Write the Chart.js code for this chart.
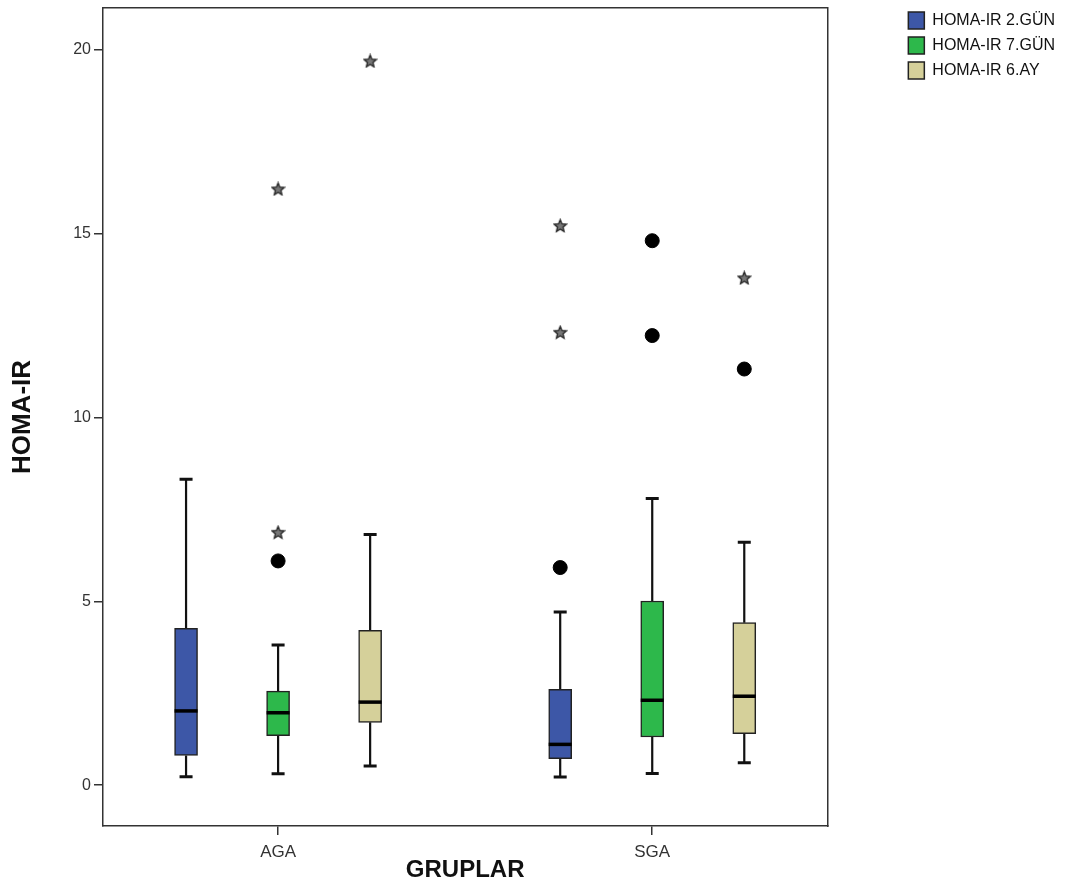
<!DOCTYPE html>
<html>
<head>
<meta charset="utf-8">
<script src="https://cdn.jsdelivr.net/npm/chart.js@4.4.1/dist/chart.umd.min.js"></script>
<style>
  html, body { margin: 0; padding: 0; background: #fff; }
  #contenedor { width: 1065px; height: 889px; }
</style>
</head>
<body>
<div id="contenedor"><canvas id="graficoCajas"></canvas></div>
<script>
// Datos
const groups = ['AGA', 'SGA'];
const seriesNames = ['HOMA-IR 2.GÜN', 'HOMA-IR 7.GÜN', 'HOMA-IR 6.AY'];
const yTicks = [0, 5, 10, 15, 20];

// Cada tabla es [serie][grupo]
const whiskerLow = [[0.23, 0.22], [0.31, 0.32], [0.52, 0.61]];
const q1 = [[0.81, 0.72], [1.35, 1.31], [1.71, 1.40]];
const medians = [[2.02, 1.11], [1.97, 2.31], [2.26, 2.42]];
const q3 = [[4.27, 2.61], [2.56, 5.01], [4.21, 4.42]];
const whiskerHigh = [[8.32, 4.71], [3.81, 7.80], [6.82, 6.61]];
const circleOutliers = [[[], [5.92]], [[6.10], [14.81, 12.23]], [[], [11.32]]];
const starOutliers = [[[], [15.22, 12.32]], [[6.88, 16.22], []], [[19.70], [13.80]]];

// Estilo y posición de las cajas
const seriesColors = ['#3D57A7', '#2DB84B', '#D5D09A'];
const boxOffset = [-0.246, 0, 0.246];
const lineColor = '#222';

Chart.defaults.font.family = "'Liberation Sans', Arial, sans-serif";

// Estrella para los valores extremos
function makeStar(size) {
    const c = document.createElement('canvas');
    c.width = size;
    c.height = size;
    const g = c.getContext('2d');
    const cx = size / 2, cy = size / 2 + 0.5;
    const ro = size / 2 - 1, ri = ro * 0.45;
    g.beginPath();
    for (let i = 0; i < 10; i++) {
        const r = i % 2 ? ri : ro;
        const a = -Math.PI / 2 + i * Math.PI / 5;
        g.lineTo(cx + r * Math.cos(a), cy + r * Math.sin(a));
    }
    g.closePath();
    g.fillStyle = '#777';
    g.fill();
    g.strokeStyle = '#222';
    g.lineWidth = 1.3;
    g.stroke();
    return c;
}

function outlierPoints(list) {
    const pts = [];
    list.forEach((bySerie, s) => bySerie.forEach((vals, g) => {
        vals.forEach(v => pts.push({ x: g + 1 + boxOffset[s], y: v }));
    }));
    return pts;
}

const boxDatasets = seriesNames.map((name, s) => ({
    type: 'bar',
    label: name,
    data: groups.map((g, gi) => ({ x: gi + 1 + boxOffset[s], y: [q1[s][gi], q3[s][gi]] })),
    backgroundColor: seriesColors[s],
    borderColor: lineColor,
    borderWidth: 1.5,
    borderSkipped: false,
    barThickness: 23,
    stack: 'cajas'
}));

// Bigotes y medianas
const boxPlotLines = {
    id: 'boxPlotLines',
    beforeDatasetsDraw(chart) {
        const { ctx, scales: { x, y } } = chart;
        ctx.save();
        ctx.strokeStyle = '#111';
        seriesNames.forEach((_, s) => groups.forEach((_, g) => {
            const px = x.getPixelForValue(g + 1 + boxOffset[s]);
            const yLo = y.getPixelForValue(whiskerLow[s][g]);
            const yHi = y.getPixelForValue(whiskerHigh[s][g]);
            ctx.lineWidth = 2.2;
            ctx.beginPath();
            ctx.moveTo(px, yLo);
            ctx.lineTo(px, y.getPixelForValue(q1[s][g]));
            ctx.moveTo(px, y.getPixelForValue(q3[s][g]));
            ctx.lineTo(px, yHi);
            ctx.stroke();
            ctx.lineWidth = 3;
            ctx.beginPath();
            ctx.moveTo(px - 6.5, yLo);
            ctx.lineTo(px + 6.5, yLo);
            ctx.moveTo(px - 6.5, yHi);
            ctx.lineTo(px + 6.5, yHi);
            ctx.stroke();
        }));
        ctx.restore();
    },
    afterDatasetsDraw(chart) {
        const { ctx, scales: { x, y } } = chart;
        ctx.save();
        ctx.strokeStyle = '#000';
        ctx.lineWidth = 3.5;
        seriesNames.forEach((_, s) => groups.forEach((_, g) => {
            const bar = chart.getDatasetMeta(s).data[g];
            const px = x.getPixelForValue(g + 1 + boxOffset[s]);
            const py = y.getPixelForValue(medians[s][g]);
            ctx.beginPath();
            ctx.moveTo(px - bar.width / 2, py);
            ctx.lineTo(px + bar.width / 2, py);
            ctx.stroke();
        }));
        ctx.restore();
    }
};

const axisLine = { color: '#333', width: 1.5 };

new Chart(document.getElementById('graficoCajas'), {
    type: 'bar',
    data: {
        datasets: [
            ...boxDatasets,
            {
                type: 'scatter',
                label: 'circulos',
                data: outlierPoints(circleOutliers),
                pointStyle: 'circle',
                pointRadius: 7,
                backgroundColor: '#000',
                borderColor: '#000'
            },
            {
                type: 'scatter',
                label: 'estrellas',
                data: outlierPoints(starOutliers),
                pointStyle: makeStar(15),
                backgroundColor: '#000',
                borderColor: '#000'
            }
        ]
    },
    options: {
        responsive: true,
        maintainAspectRatio: false,
        animation: false,
        layout: { padding: { top: 4, left: 0, right: 0, bottom: 0 } },
        plugins: {
            tooltip: { enabled: false },
            legend: {
                position: 'right',
                align: 'start',
                labels: {
                    boxWidth: 16,
                    boxHeight: 17,
                    padding: 8,
                    color: '#111',
                    font: { size: 16 },
                    filter: item => item.datasetIndex < seriesNames.length
                }
            }
        },
        scales: {
            x: {
                type: 'linear',
                min: 0.532,
                max: 2.468,
                offset: false,
                afterBuildTicks: s => { s.ticks = groups.map((g, i) => ({ value: i + 1 })); },
                afterFit: s => { s.height = 63; s.paddingLeft = 0; s.paddingRight = 0; },
                ticks: {
                    callback: (v, i) => groups[i],
                    font: { size: 17 },
                    color: '#333',
                    padding: 7,
                    maxRotation: 0
                },
                grid: { drawOnChartArea: false, offset: false, tickLength: 9, color: '#333', lineWidth: 1.5 },
                border: axisLine,
                title: {
                    display: true,
                    text: 'GRUPLAR',
                    color: '#111',
                    font: { size: 24, weight: 'bold' },
                    padding: { top: 0, bottom: 4 }
                }
            },
            y: {
                type: 'linear',
                min: -1.11,
                max: 21.14,
                stacked: false,
                afterBuildTicks: s => { s.ticks = yTicks.map(v => ({ value: v })); },
                afterFit: s => { s.width = 103; s.paddingTop = 0; s.paddingBottom = 0; },
                ticks: { font: { size: 16 }, color: '#333', padding: 3 },
                grid: { drawOnChartArea: false, tickLength: 9, color: '#333', lineWidth: 1.5 },
                border: axisLine,
                title: {
                    display: true,
                    text: 'HOMA-IR',
                    color: '#111',
                    font: { size: 26, weight: 'bold' },
                    padding: { top: 7, bottom: 0 }
                }
            },
            // ejes vacíos solo para el marco superior y derecho
            xTop: {
                type: 'linear',
                position: 'top',
                min: 0,
                max: 1,
                grid: { display: false },
                ticks: { display: false },
                border: axisLine,
                afterFit: s => { s.height = 3; s.paddingLeft = 0; s.paddingRight = 0; }
            },
            yRight: {
                type: 'linear',
                position: 'right',
                min: 0,
                max: 1,
                grid: { display: false },
                ticks: { display: false },
                border: axisLine,
                afterFit: s => { s.width = 73; s.paddingTop = 0; s.paddingBottom = 0; }
            }
        }
    },
    plugins: [boxPlotLines]
});
</script>
</body>
</html>
